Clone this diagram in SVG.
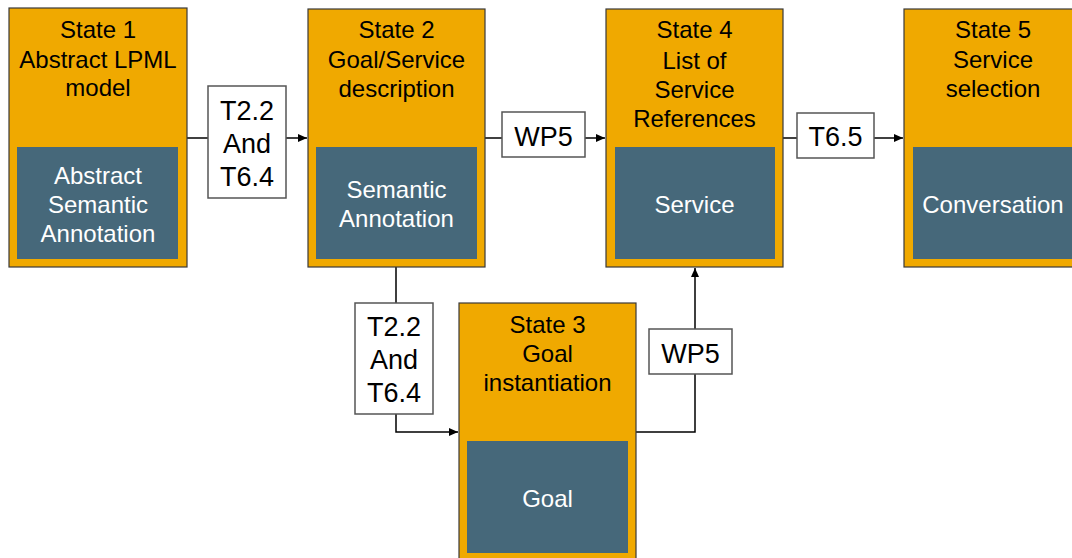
<svg xmlns="http://www.w3.org/2000/svg" width="1072" height="558" viewBox="0 0 1072 558">
  <style>
    .state { fill: #F0A900; stroke: #3a3a3a; stroke-width: 1.2; }
    .inner { fill: #46687A; }
    .head { font-family: "Liberation Sans", Arial, sans-serif; font-size: 24px; fill: #000; text-anchor: middle; }
    .body { font-family: "Liberation Sans", Arial, sans-serif; font-size: 24px; fill: #fff; text-anchor: middle; }
    .wire { fill: none; stroke: #000; stroke-width: 1.5; }
    .tag { fill: #fff; stroke: #555; stroke-width: 1.5; }
    .tagtxt { font-family: "Liberation Sans", Arial, sans-serif; font-size: 27px; fill: #000; text-anchor: middle; }
  </style>
  <defs>
    <marker id="arrow" markerUnits="userSpaceOnUse" markerWidth="9" markerHeight="8" refX="9" refY="4" orient="auto">
      <path d="M0,0 L9,4 L0,8 z" fill="#000"/>
    </marker>
  </defs>
  <rect width="1072" height="558" fill="#fff"/>

  <!-- connectors with their labels -->
  <g id="connectors">
    <path class="wire" d="M187,138 H307" marker-end="url(#arrow)"/>
    <path class="wire" d="M485,138 H605" marker-end="url(#arrow)"/>
    <path class="wire" d="M783,138 H903" marker-end="url(#arrow)"/>
    <path class="wire" d="M396,267 V432 H458" marker-end="url(#arrow)"/>
    <path class="wire" d="M636,432 H695 V268" marker-end="url(#arrow)"/>

    <rect class="tag" x="208" y="86" width="78" height="112"/>
    <text class="tagtxt" x="247" y="120">T2.2</text>
    <text class="tagtxt" x="247" y="153">And</text>
    <text class="tagtxt" x="247" y="186">T6.4</text>

    <rect class="tag" x="502" y="112" width="83" height="45"/>
    <text class="tagtxt" x="543.5" y="146">WP5</text>

    <rect class="tag" x="797" y="113" width="77" height="45"/>
    <text class="tagtxt" x="835.5" y="146">T6.5</text>

    <rect class="tag" x="355" y="303" width="78" height="111"/>
    <text class="tagtxt" x="394" y="336">T2.2</text>
    <text class="tagtxt" x="394" y="369">And</text>
    <text class="tagtxt" x="394" y="402">T6.4</text>

    <rect class="tag" x="649" y="329" width="83" height="45"/>
    <text class="tagtxt" x="690.5" y="363">WP5</text>
  </g>

  <g id="state1">
    <rect class="state" x="9" y="8" width="178" height="259"/>
    <rect class="inner" x="17" y="147" width="161" height="112"/>
    <text class="head" x="98" y="38">State 1</text>
    <text class="head" x="98" y="68">Abstract LPML</text>
    <text class="head" x="98" y="96">model</text>
    <text class="body" x="98" y="184">Abstract</text>
    <text class="body" x="98" y="213">Semantic</text>
    <text class="body" x="98" y="242">Annotation</text>
  </g>

  <g id="state2">
    <rect class="state" x="308" y="9" width="177" height="258"/>
    <rect class="inner" x="316" y="147" width="161" height="112"/>
    <text class="head" x="396.5" y="38">State 2</text>
    <text class="head" x="396.5" y="68">Goal/Service</text>
    <text class="head" x="396.5" y="97">description</text>
    <text class="body" x="396.5" y="198">Semantic</text>
    <text class="body" x="396.5" y="227">Annotation</text>
  </g>

  <g id="state3">
    <rect class="state" x="459" y="303" width="177" height="262"/>
    <rect class="inner" x="467" y="441" width="161" height="112"/>
    <text class="head" x="547.5" y="333">State 3</text>
    <text class="head" x="547.5" y="362">Goal</text>
    <text class="head" x="547.5" y="391">instantiation</text>
    <text class="body" x="547.5" y="507">Goal</text>
  </g>

  <g id="state4">
    <rect class="state" x="606" y="9" width="177" height="258"/>
    <rect class="inner" x="615" y="147" width="160" height="112"/>
    <text class="head" x="694.5" y="38">State 4</text>
    <text class="head" x="694.5" y="69">List of</text>
    <text class="head" x="694.5" y="98">Service</text>
    <text class="head" x="694.5" y="127">References</text>
    <text class="body" x="694.5" y="213">Service</text>
  </g>

  <g id="state5">
    <rect class="state" x="904" y="9" width="178" height="258"/>
    <rect class="inner" x="913" y="147" width="161" height="112"/>
    <text class="head" x="993" y="38">State 5</text>
    <text class="head" x="993" y="68">Service</text>
    <text class="head" x="993" y="97">selection</text>
    <text class="body" x="993" y="213">Conversation</text>
  </g>
</svg>
